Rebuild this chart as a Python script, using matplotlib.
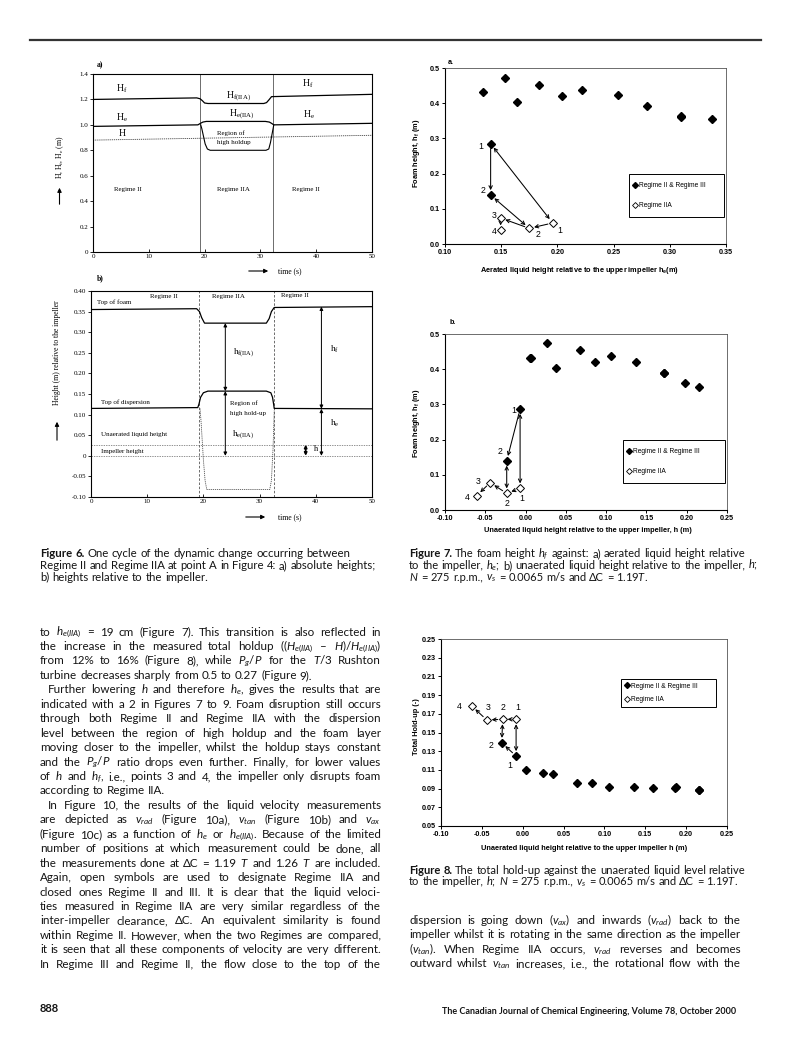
import numpy as np
import matplotlib
matplotlib.use("Agg")
import matplotlib.pyplot as plt
from matplotlib.patches import Rectangle, FancyArrowPatch
from matplotlib.lines import Line2D

W, H = 793, 1051
INK = "#141414"
SERIF = "Liberation Serif"
ARIAL = "Liberation Sans"
BODY = "Lato"
BODY_FALLBACK = ["Lato", "DejaVu Sans"]

plt.rcParams["axes.unicode_minus"] = False
plt.rcParams["mathtext.fontset"] = "custom"
plt.rcParams["mathtext.rm"] = "Lato"
plt.rcParams["mathtext.it"] = "Lato:italic"
plt.rcParams["mathtext.bf"] = "Lato:bold"

# ---------------- Figure 6a: absolute heights vs time ----------------
t6a_hf = [0, 18.6, 19.2, 19.6, 20.0, 20.6, 30.6, 31.1, 31.5, 32.0, 50]
hf6a = [1.20, 1.212, 1.205, 1.19, 1.172, 1.168, 1.168, 1.175, 1.195, 1.222, 1.24]
t6a_he = [0, 18.8, 19.3, 19.7, 20.3, 30.9, 31.6, 32.0, 32.4, 50]
he6a = [0.988, 1.0, 1.013, 1.022, 1.027, 1.027, 1.022, 1.012, 1.0, 1.012]
t6a_h = [0, 50]
h6a = [0.88, 0.918]
t6a_low = [19.3, 19.5, 19.8, 20.1, 20.5, 21.0, 31.0, 31.5, 31.8, 32.1, 32.4]
low6a = [1.0, 0.97, 0.91, 0.85, 0.81, 0.80, 0.80, 0.81, 0.86, 0.93, 1.0]
switch6a = [19.25, 32.25]
yticks6a = [0, 0.2, 0.4, 0.6, 0.8, 1.0, 1.2, 1.4]
ylabels6a = ["0", "0.2", "0.4", "0.6", "0.8", "1.0", "1.2", "1.4"]

# ---------------- Figure 6b: heights relative to impeller ----------------
t6b_foam = [0, 18.8, 19.3, 19.7, 20.2, 31.2, 31.7, 32.1, 32.6, 50]
foam6b = [0.355, 0.357, 0.350, 0.335, 0.322, 0.322, 0.333, 0.350, 0.360, 0.362]
t6b_disp = [0, 19.0, 19.2, 19.5, 20.0, 20.8, 31.2, 32.0, 32.3, 32.5, 32.6, 50]
disp6b = [0.115, 0.117, 0.125, 0.142, 0.153, 0.157, 0.157, 0.153, 0.142, 0.125, 0.115, 0.114]
t6b_low = [19.4, 19.6, 20.0, 20.3, 20.6, 31.8, 32.1, 32.4, 32.6]
low6b = [0.115, 0.08, -0.01, -0.06, -0.082, -0.082, -0.06, 0.02, 0.11]
unaerated6b = 0.027
impeller6b = 0.0
switch6b = [19.2, 32.6]
arr6b_t = [23.9, 23.9, 41.0, 41.0]
arr6b_lo = [0.157, 0.0, 0.114, 0.0]
arr6b_hi = [0.322, 0.157, 0.362, 0.114]
harr6b_t = 38.2
yticks6b = [-0.10, -0.05, 0, 0.05, 0.10, 0.15, 0.20, 0.25, 0.30, 0.35, 0.40]
ylabels6b = ["-0.10", "-0.05", "0", "0.05", "0.10", "0.15", "0.20", "0.25", "0.30", "0.35", "0.40"]

# ---------------- Figure 7a: foam height vs aerated liquid height ----------------
f7a_x = [0.1335, 0.1537, 0.1638, 0.1839, 0.2041, 0.2216, 0.2542, 0.2794, 0.3097, 0.3104, 0.3378]
f7a_y = [0.431, 0.472, 0.403, 0.453, 0.420, 0.437, 0.422, 0.391, 0.361, 0.363, 0.355]
f7a_cx = [0.1406, 0.1406]
f7a_cy = [0.285, 0.139]
f7a_ox = [0.1958, 0.1750, 0.1495, 0.1495]
f7a_oy = [0.0597, 0.0445, 0.0739, 0.0388]
f7a_num = ["1", "2", "3", "4", "2", "1"]
f7a_numx = [0.1322, 0.1335, 0.1435, 0.1435, 0.1830, 0.2017]
f7a_numy = [0.277, 0.153, 0.080, 0.036, 0.028, 0.039]

# ---------------- Figure 7b: foam height vs unaerated liquid height ----------------
f7b_x = [0.0056, 0.0066, 0.0263, 0.0375, 0.0670, 0.0856, 0.1063, 0.1374, 0.1713, 0.1723, 0.1980, 0.2152]
f7b_y = [0.431, 0.433, 0.4735, 0.404, 0.4545, 0.4195, 0.4375, 0.4195, 0.388, 0.390, 0.360, 0.350]
f7b_cx = [-0.0068, -0.0234]
f7b_cy = [0.287, 0.140]
f7b_ox = [-0.0068, -0.0234, -0.0440, -0.0606]
f7b_oy = [0.0616, 0.0473, 0.0777, 0.0407]
f7b_num = ["1", "2", "3", "4", "2", "1"]
f7b_numx = [-0.0150, -0.0316, -0.0586, -0.0730, -0.0234, -0.0047]
f7b_numy = [0.283, 0.166, 0.080, 0.035, 0.019, 0.033]

# ---------------- Figure 8: total hold-up vs unaerated liquid height ----------------
f8_x = [0.0041, 0.0254, 0.0368, 0.0662, 0.0846, 0.1062, 0.1364, 0.1600, 0.1866, 0.1876, 0.2152, 0.2162]
f8_y = [0.1097, 0.1069, 0.1055, 0.0962, 0.0962, 0.0919, 0.0919, 0.0911, 0.0911, 0.0913, 0.0890, 0.0888]
f8_cx = [-0.0081, -0.0257]
f8_cy = [0.1248, 0.1390]
f8_ox = [-0.0081, -0.0245, -0.0440, -0.0624]
f8_oy = [0.1641, 0.1641, 0.1634, 0.1784]
f8_num = ["4", "3", "2", "1", "2", "1"]
f8_numx = [-0.0775, -0.0428, -0.0237, -0.0065, -0.0388, -0.0155]
f8_numy = [0.1775, 0.1765, 0.1765, 0.1765, 0.1360, 0.1145]

# arrows between numbered points: (kind, index) -> (kind, index)
links7 = [(("c", 0), ("c", 1), "->"), (("c", 0), ("o", 0), "<->"), (("c", 1), ("o", 1), "<->"),
          (("o", 0), ("o", 1), "->"), (("o", 1), ("o", 2), "->"), (("o", 2), ("o", 3), "->")]
links8 = [(("c", 0), ("c", 1), "->"), (("c", 0), ("o", 0), "<->"), (("c", 1), ("o", 1), "<->"),
          (("o", 0), ("o", 1), "->"), (("o", 1), ("o", 2), "->"), (("o", 2), ("o", 3), "->")]


def fx(x):
    return x / W


def fy(y):
    return 1 - y / H


def add_ax(x0, y0, x1, y1):
    return fig.add_axes([x0 / W, 1 - y1 / H, (x1 - x0) / W, (y1 - y0) / H])


def ftext(x, y, s, **kw):
    return fig.text(fx(x), fy(y), s, **kw)


def fig_arrow(p0, p1, lw=0.8, ms=6):
    a = FancyArrowPatch((fx(p0[0]), fy(p0[1])), (fx(p1[0]), fy(p1[1])),
                        transform=fig.transFigure, arrowstyle="-|>",
                        mutation_scale=ms, lw=lw, color="k")
    fig.add_artist(a)


fig = plt.figure(figsize=(W / 100, H / 100), dpi=100)
fig.patch.set_facecolor("white")
renderer = fig.canvas.get_renderer()

# top rule
fig.add_artist(Line2D([fx(30), fx(761)], [fy(40), fy(40)], color="#333333", lw=1.6))

# ================= Figure 6a =================
ax = add_ax(93, 74, 372, 252)
ax.set_xlim(0, 50)
ax.set_ylim(0, 1.4)
for tv in switch6a:
    ax.axvline(tv, color="#555555", lw=0.6)
ax.plot(t6a_hf, hf6a, color="k", lw=0.9)
ax.plot(t6a_he, he6a, color="k", lw=0.9)
ax.plot(t6a_h, h6a, color="#444444", lw=0.6, ls=(0, (1.5, 1)))
ax.plot(t6a_low, low6a, color="k", lw=0.8)
ax.set_xticks(range(0, 51, 10))
ax.set_yticks(yticks6a)
ax.set_yticklabels(ylabels6a)
ax.tick_params(axis="both", labelsize=5, length=2, width=0.6, pad=1.5, labelfontfamily=SERIF)
ax.tick_params(axis="x", direction="in")
for sp in ax.spines.values():
    sp.set_linewidth(0.8)
lab6 = dict(family=SERIF, color="k")
ax.text(4.1, 1.287, r"H$_{\mathdefault{f}}$", fontsize=7, va="center", **lab6)
ax.text(23.9, 1.226, r"H$_{\mathdefault{f(IIA)}}$", fontsize=7, va="center", **lab6)
ax.text(37.4, 1.322, r"H$_{\mathdefault{f}}$", fontsize=7, va="center", **lab6)
ax.text(4.1, 1.054, r"H$_{\mathdefault{e}}$", fontsize=7, va="center", **lab6)
ax.text(24.3, 1.080, r"H$_{\mathdefault{e(IIA)}}$", fontsize=7, va="center", **lab6)
ax.text(37.6, 1.080, r"H$_{\mathdefault{e}}$", fontsize=7, va="center", **lab6)
ax.text(4.6, 0.935, "H", fontsize=7, va="center", **lab6)
ax.text(22.2, 0.935, "Region of", fontsize=5, va="center", **lab6)
ax.text(22.2, 0.865, "high holdup", fontsize=5, va="center", **lab6)
ax.text(3.7, 0.49, "Regime II", fontsize=5, va="center", **lab6)
ax.text(22.2, 0.49, "Regime IIA", fontsize=5, va="center", **lab6)
ax.text(35.6, 0.49, "Regime II", fontsize=5, va="center", **lab6)
ftext(97, 65, "a)", fontsize=5.5, family=SERIF, weight="bold", va="center")
ftext(60, 157, r"H, H$_{\mathdefault{f}}$, H$_{\mathdefault{e}}$ (m)", fontsize=5.5, family=SERIF,
      rotation=90, ha="center", va="center")
fig_arrow((59.5, 207), (59.5, 185))
fig_arrow((246, 271), (271, 271))
ftext(278, 271, "time (s)", fontsize=5.5, family=SERIF, va="center")
ftext(97, 278, "b)", fontsize=5.5, family=SERIF, weight="bold", va="center")

# ================= Figure 6b =================
ax = add_ax(91, 291, 372, 497)
ax.set_xlim(0, 50)
ax.set_ylim(-0.10, 0.40)
for tv in switch6b:
    ax.axvline(tv, color="#555555", lw=0.6, ls=(0, (3, 2)))
ax.axhline(unaerated6b, color="#666666", lw=0.5, ls=(0, (2, 1.5)))
ax.axhline(impeller6b, color="#666666", lw=0.5, ls=(0, (2, 1.5)))
ax.plot(t6b_foam, foam6b, color="k", lw=0.9)
ax.plot(t6b_disp, disp6b, color="k", lw=0.9)
ax.plot(t6b_low, low6b, color="#555555", lw=0.6, ls=(0, (1.5, 1)))
for tt, lo, hi in zip(arr6b_t, arr6b_lo, arr6b_hi):
    ax.annotate("", xy=(tt, hi), xytext=(tt, lo),
                arrowprops=dict(arrowstyle="<|-|>", lw=0.7, color="k", mutation_scale=5,
                                shrinkA=0, shrinkB=0))
ax.annotate("", xy=(harr6b_t, unaerated6b), xytext=(harr6b_t, impeller6b),
            arrowprops=dict(arrowstyle="<|-|>", lw=1.2, color="k", mutation_scale=4,
                            shrinkA=0, shrinkB=0))
ax.set_xticks(range(0, 51, 10))
ax.set_yticks(yticks6b)
ax.set_yticklabels(ylabels6b)
ax.tick_params(axis="both", labelsize=5, length=2, width=0.6, pad=1.5, labelfontfamily=SERIF)
ax.tick_params(axis="x", direction="in")
for sp in ax.spines.values():
    sp.set_linewidth(0.8)
ax.text(1.0, 0.373, "Top of foam", fontsize=5, va="center", **lab6)
ax.text(10.5, 0.386, "Regime II", fontsize=5, va="center", **lab6)
ax.text(21.5, 0.386, "Regime IIA", fontsize=5, va="center", **lab6)
ax.text(33.8, 0.389, "Regime II", fontsize=5, va="center", **lab6)
ax.text(25.3, 0.250, r"h$_{\mathdefault{f(IIA)}}$", fontsize=6.5, va="center", **lab6)
ax.text(42.5, 0.258, r"h$_{\mathdefault{f}}$", fontsize=6.5, va="center", **lab6)
ax.text(1.7, 0.130, "Top of dispersion", fontsize=5, va="center", **lab6)
ax.text(24.8, 0.127, "Region of", fontsize=5, va="center", **lab6)
ax.text(24.8, 0.102, "high hold-up", fontsize=5, va="center", **lab6)
ax.text(25.0, 0.052, r"h$_{\mathdefault{e(IIA)}}$", fontsize=6.5, va="center", **lab6)
ax.text(42.5, 0.078, r"h$_{\mathdefault{e}}$", fontsize=6.5, va="center", **lab6)
ax.text(1.7, 0.052, "Unaerated liquid height", fontsize=5, va="center", **lab6)
ax.text(1.7, 0.010, "Impeller height", fontsize=5, va="center", **lab6)
ax.text(39.6, 0.016, "h", fontsize=6, va="center", **lab6)
ftext(57, 353, "Height (m) relative to the impeller", fontsize=5.5, family=SERIF,
      rotation=90, ha="center", va="center")
fig_arrow((57, 443), (57, 419))
fig_arrow((243, 517), (268, 517))
ftext(278, 517, "time (s)", fontsize=5.5, family=SERIF, va="center")


# ================= Excel style scatter plots =================
def excel_axes(box, xlim, ylim, xticks, yticks, xfmt, yfmt):
    a = add_ax(*box)
    a.set_xlim(*xlim)
    a.set_ylim(*ylim)
    a.set_xticks(xticks)
    a.set_yticks(yticks)
    a.set_xticklabels([xfmt.format(v) for v in xticks])
    a.set_yticklabels([yfmt.format(v) for v in yticks])
    a.tick_params(direction="out", length=2.2, width=0.7, labelsize=5.2, pad=1.5,
                  labelfontfamily=ARIAL)
    for lab in a.get_xticklabels() + a.get_yticklabels():
        lab.set_fontweight("bold")
    for side, sp in a.spines.items():
        sp.set_linewidth(0.8)
        if side in ("top", "right"):
            sp.set_color("#555555")
            sp.set_linewidth(0.6)
    return a


def scatter_panel(a, x, y, cx, cy, ox, oy, links, numx, numy, num):
    a.plot(x + cx, y + cy, ls="none", marker="D", ms=4.0, color="k", zorder=3)
    a.plot(ox, oy, ls="none", marker="D", ms=3.6, mfc="white", mec="k", mew=0.7, zorder=3)
    pts = {"c": list(zip(cx, cy)), "o": list(zip(ox, oy))}
    for (k0, i0), (k1, i1), style in links:
        a.annotate("", xy=pts[k1][i1], xytext=pts[k0][i0],
                   arrowprops=dict(arrowstyle=style, lw=0.75, color="k", mutation_scale=6,
                                   shrinkA=3.5, shrinkB=3.5), zorder=2)
    for xx, yy, s in zip(numx, numy, num):
        a.text(xx, yy, s, fontsize=6.3, family=ARIAL, ha="center", va="center")


def legend_box(a, x0, y0, x1, y1, spacing):
    a.add_patch(Rectangle((x0, y0), x1 - x0, y1 - y0, transform=a.transAxes, fill=False,
                          lw=0.7, ec="k", zorder=5))
    h1 = Line2D([], [], marker="D", ls="none", color="k", ms=3.0)
    h2 = Line2D([], [], marker="D", ls="none", mfc="white", mec="k", ms=3.0, mew=0.6)
    a.legend([h1, h2], ["Regime II & Regime III", "Regime IIA"], loc="center left",
             bbox_to_anchor=(x0 + 0.01, y0, x1 - x0, y1 - y0), frameon=False,
             prop=dict(family=ARIAL, size=4.8), labelspacing=spacing, handlelength=0.7,
             handletextpad=0.25, borderpad=0.1, borderaxespad=0)


xt7a = [0.10, 0.15, 0.20, 0.25, 0.30, 0.35]
xt7b = [-0.10, -0.05, 0.00, 0.05, 0.10, 0.15, 0.20, 0.25]
yt7 = [0.0, 0.1, 0.2, 0.3, 0.4, 0.5]
yt8 = [0.05, 0.07, 0.09, 0.11, 0.13, 0.15, 0.17, 0.19, 0.21, 0.23, 0.25]

# Figure 7a
ax = excel_axes((445, 68, 726, 244), (0.10, 0.35), (0.0, 0.5), xt7a, yt7, "{:.2f}", "{:.1f}")
scatter_panel(ax, f7a_x, f7a_y, f7a_cx, f7a_cy, f7a_ox, f7a_oy, links7, f7a_numx, f7a_numy, f7a_num)
legend_box(ax, 0.655, 0.153, 0.993, 0.398, 1.9)
ftext(448, 62, "a.", fontsize=5.2, family=ARIAL, weight="bold", va="center")
ftext(580, 271, r"Aerated liquid height relative to the upper impeller h$_{\mathdefault{e}}$(m)",
      fontsize=5.3, family=ARIAL, weight="bold", ha="center", va="center")
ftext(417, 153, r"Foam height, h$_{\mathdefault{f}}$ (m)", fontsize=5.3, family=ARIAL,
      weight="bold", rotation=90, ha="center", va="center")

# Figure 7b
ax = excel_axes((445, 334, 727, 510), (-0.10, 0.25), (0.0, 0.5), xt7b, yt7, "{:.2f}", "{:.1f}")
scatter_panel(ax, f7b_x, f7b_y, f7b_cx, f7b_cy, f7b_ox, f7b_oy, links7, f7b_numx, f7b_numy, f7b_num)
legend_box(ax, 0.631, 0.153, 0.993, 0.398, 1.9)
ftext(450, 323, "b.", fontsize=5.2, family=ARIAL, weight="bold", va="center")
ftext(588, 530, "Unaerated liquid height relative to the upper impeller, h (m)",
      fontsize=5.3, family=ARIAL, weight="bold", ha="center", va="center")
ftext(417, 423, r"Foam height, h$_{\mathdefault{f}}$ (m)", fontsize=5.3, family=ARIAL,
      weight="bold", rotation=90, ha="center", va="center")

# Figure 8
ax = excel_axes((441, 639, 727, 826), (-0.10, 0.25), (0.05, 0.25), xt7b, yt8, "{:.2f}", "{:.2f}")
scatter_panel(ax, f8_x, f8_y, f8_cx, f8_cy, f8_ox, f8_oy, links8, f8_numx, f8_numy, f8_num)
legend_box(ax, 0.629, 0.636, 0.962, 0.786, 1.0)
ftext(584, 848, "Unaerated liquid height relative to the upper impeller h (m)",
      fontsize=5.3, family=ARIAL, weight="bold", ha="center", va="center")
ftext(417, 727, "Total Hold-up (-)", fontsize=5.3, family=ARIAL, weight="bold",
      rotation=90, ha="center", va="center")


# ================= page text =================
def set_line(s, x0, x1, base, size, justify=True, indent=0.0, nbold=0):
    words = s.split(" ")
    objs = []
    for i, w in enumerate(words):
        fam = BODY if w.isascii() else BODY_FALLBACK
        objs.append(ftext(0, base, w, fontsize=size, family=fam, va="baseline", color=INK,
                          weight="bold" if i < nbold else "normal"))
    widths = [o.get_window_extent(renderer).width for o in objs]
    gap = size * 1.389 * 0.26
    avail = x1 - x0 - indent
    if justify and len(objs) > 1:
        natural = sum(widths) + (len(objs) - 1) * 2.0
        if natural > avail:
            scale = avail / natural
            for o in objs:
                o.set_fontsize(size * scale)
            widths = [o.get_window_extent(renderer).width for o in objs]
        gap = (avail - sum(widths)) / (len(objs) - 1)
    x = x0 + indent
    for o, w in zip(objs, widths):
        o.set_x(fx(x))
        x += w + gap


cap6 = ["Figure 6. One cycle of the dynamic change occurring between",
        "Regime II and Regime IIA at point A in Figure 4: a) absolute heights;",
        "b) heights relative to the impeller."]
cap7 = ["Figure 7. The foam height $h_f$ against: a) aerated liquid height relative",
        "to the impeller, $h_e$; b) unaerated liquid height relative to the impeller, $h$;",
        "$N$ = 275 r.p.m., $v_s$ = 0.0065 m/s and ΔC = 1.19$T$."]
cap8 = ["Figure 8. The total hold-up against the unaerated liquid level relative",
        "to the impeller, $h$; $N$ = 275 r.p.m., $v_s$ = 0.0065 m/s and ΔC = 1.19$T$."]
for i, s in enumerate(cap6):
    set_line(s, 40, 385, 557 + 11.8 * i, 8.2, justify=False, nbold=2 if i == 0 else 0)
for i, s in enumerate(cap7):
    set_line(s, 409, 762, 557 + 11.8 * i, 8.05, justify=False, nbold=2 if i == 0 else 0)
for i, s in enumerate(cap8):
    set_line(s, 409, 762, 873.5 + 11.8 * i, 8.05, justify=False, nbold=2 if i == 0 else 0)

left_lines = [
    ("to $h_{e(IIA)}$ = 19 cm (Figure 7). This transition is also reflected in", 0, True),
    ("the increase in the measured total holdup (($H_{e(IIA)}$ – $H$)/$H_{e(IIA)}$)", 0, True),
    ("from 12% to 16% (Figure 8), while $P_g/P$ for the $T$/3 Rushton", 0, True),
    ("turbine decreases sharply from 0.5 to 0.27 (Figure 9).", 0, False),
    ("Further lowering $h$ and therefore $h_e$, gives the results that are", 8, True),
    ("indicated with a 2 in Figures 7 to 9. Foam disruption still occurs", 0, True),
    ("through both Regime II and Regime IIA with the dispersion", 0, True),
    ("level between the region of high holdup and the foam layer", 0, True),
    ("moving closer to the impeller, whilst the holdup stays constant", 0, True),
    ("and the $P_g/P$ ratio drops even further. Finally, for lower values", 0, True),
    ("of $h$ and $h_f$, i.e., points 3 and 4, the impeller only disrupts foam", 0, True),
    ("according to Regime IIA.", 0, False),
    ("In Figure 10, the results of the liquid velocity measurements", 8, True),
    ("are depicted as $v_{rad}$ (Figure 10a), $v_{tan}$ (Figure 10b) and $v_{ax}$", 0, True),
    ("(Figure 10c) as a function of $h_e$ or $h_{e(IIA)}$. Because of the limited", 0, True),
    ("number of positions at which measurement could be done, all", 0, True),
    ("the measurements done at ΔC = 1.19 $T$ and 1.26 $T$ are included.", 0, True),
    ("Again, open symbols are used to designate Regime IIA and", 0, True),
    ("closed ones Regime II and III. It is clear that the liquid veloci-", 0, True),
    ("ties measured in Regime IIA are very similar regardless of the", 0, True),
    ("inter-impeller clearance, ΔC. An equivalent similarity is found", 0, True),
    ("within Regime II. However, when the two Regimes are compared,", 0, True),
    ("it is seen that all these components of velocity are very different.", 0, True),
    ("In Regime III and Regime II, the flow close to the top of the", 0, True),
]
right_lines = [
    "dispersion is going down ($v_{ax}$) and inwards ($v_{rad}$) back to the",
    "impeller whilst it is rotating in the same direction as the impeller",
    "($v_{tan}$). When Regime IIA occurs, $v_{rad}$ reverses and becomes",
    "outward whilst $v_{tan}$ increases, i.e., the rotational flow with the",
]
for i, (s, ind, just) in enumerate(left_lines):
    set_line(s, 40, 381, 635.5 + 14.45 * i, 8.4, justify=just, indent=ind)
for i, s in enumerate(right_lines):
    set_line(s, 409, 741, 924 + 14.45 * i, 8.4, justify=True)

ftext(40, 1012, "888", fontsize=8, family=BODY, weight="bold", va="baseline", color=INK)
foot = ftext(442, 1014, "The Canadian Journal of Chemical Engineering, Volume 78, October 2000",
             fontsize=7, family=BODY, weight="bold", va="baseline", color=INK)
fw = foot.get_window_extent(renderer).width
foot.set_fontsize(7 * 299 / fw)

fig.savefig("out.png", dpi=100)
